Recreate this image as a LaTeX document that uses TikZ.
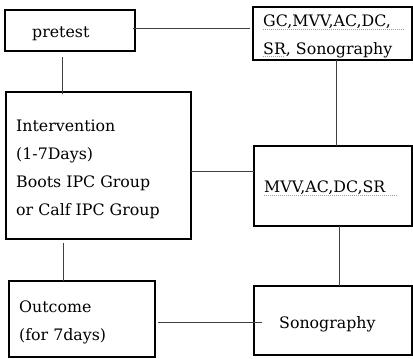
\documentclass[tikz,border=0pt]{standalone}
\usepackage{fontspec}
\setmainfont{DejaVu Serif}
\begin{document}
\begin{tikzpicture}[x=1pt,y=-1pt,
  box/.style={draw=black, line width=1.8pt, rectangle, inner sep=0pt, outer sep=0pt},
  link/.style={draw=black!75, line width=1pt},
  txt/.style={anchor=base west, inner sep=0pt, font=\fontsize{15.8pt}{18pt}\selectfont},
  squig/.style={draw={rgb,255:red,240;green,140;blue,40}, line width=1pt, dash pattern=on 1pt off 1pt}]
\useasboundingbox (0,0) rectangle (413,359);
% boxes
\node[box, minimum width=130pt, minimum height=41pt] (pretest) at (70,30.5) {};
\node[box, minimum width=159pt, minimum height=53pt] (gc) at (332.5,33.5) {};
\node[box, minimum width=185pt, minimum height=147pt] (interv) at (98.5,165.5) {};
\node[box, minimum width=158pt, minimum height=80pt] (mvv) at (333,186) {};
\node[box, minimum width=146pt, minimum height=76pt] (outcome) at (82,319) {};
\node[box, minimum width=158pt, minimum height=69pt] (sono) at (333,320.5) {};
% texts
\node[txt] (tpre) at (32,37) {pretest};
\node[txt] (tgc1) at (263,26.5) {GC,MVV,AC,DC,};
\node[txt] (tgc2) at (263,54) {SR, Sonography};
\node[txt] (ti1) at (16,131.7) {Intervention};
\node[txt] (ti2) at (16,159.5) {(1-7Days)};
\node[txt] (ti3) at (16,187.3) {Boots IPC Group};
\node[txt] (ti4) at (16,215) {or Calf IPC Group};
\node[txt] (tmvv) at (264,192.5) {MVV,AC,DC,SR};
\node[txt] (to1) at (19,312.7) {Outcome};
\node[txt] (to2) at (19,340.5) {(for 7days)};
\node[txt] (tson) at (279,328.3) {Sonography};
% spell-check underlines
\draw[squig] (tgc1.base west) ++(0,2.5) -- ++(141,0);
\draw[squig] (tgc2.base west) ++(0,2.8) -- ++(22,0);
\draw[squig] (tmvv.base west) ++(0,2.5) -- ++(134,0);
% connectors
\draw[link, shorten <=-2pt, shorten >=3pt] ([yshift=1.8pt]pretest.east) -- ([yshift=1.8pt]pretest.east -| gc.west);
\draw[link, shorten <=6pt, shorten >=-2pt] ([xshift=-8pt]pretest.south) -- ([xshift=-8pt]pretest.south |- interv.north);
\draw[link] ([xshift=3.5pt]gc.south) -- ([xshift=3.5pt]gc.south |- mvv.north);
\draw[link] ([yshift=-5.5pt]interv.east) -- ([yshift=-5.5pt]interv.east -| mvv.west);
\draw[link, shorten <=4pt] ([xshift=-35.5pt]interv.south) -- ([xshift=-35.5pt]interv.south |- outcome.north);
\draw[link] ([xshift=6pt]mvv.south) -- ([xshift=6pt]mvv.south |- sono.north);
\draw[link, shorten <=3pt, shorten >=-8pt] ([yshift=-3pt]outcome.east) -- ([yshift=-3pt]outcome.east -| sono.west);
\end{tikzpicture}
\end{document}
